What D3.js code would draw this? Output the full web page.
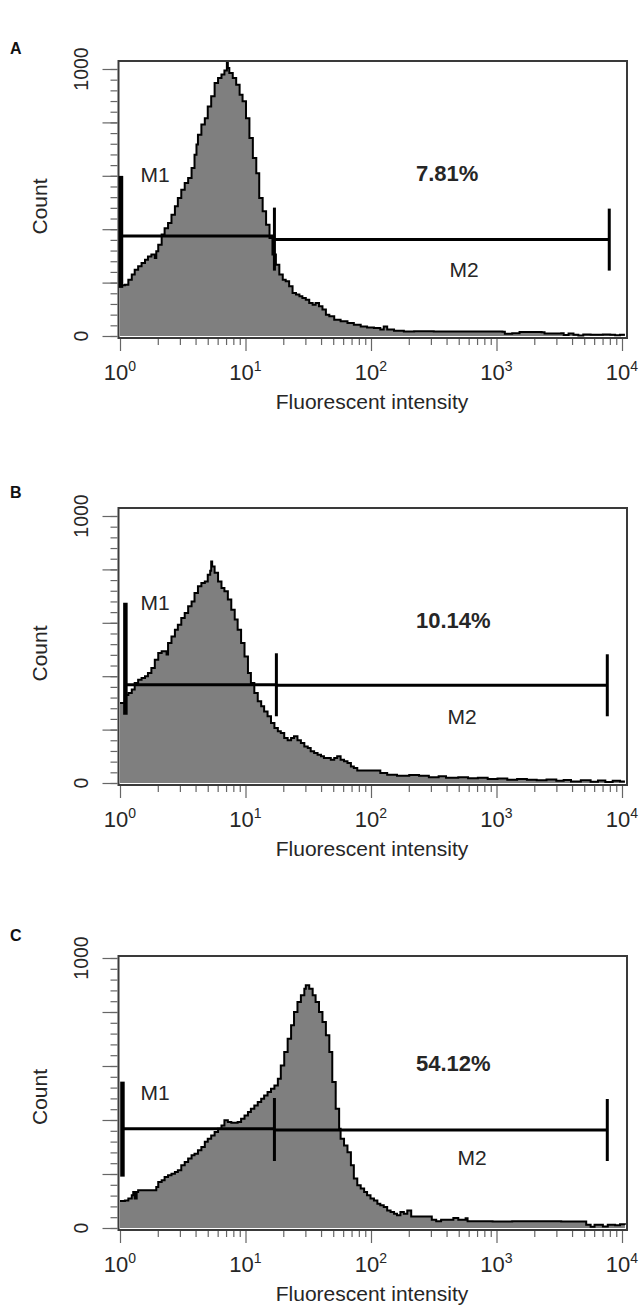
<!DOCTYPE html>
<html><head><meta charset="utf-8">
<script src="https://cdn.jsdelivr.net/npm/d3@7"></script>
<style>body{margin:0;background:#fff}svg{display:block}</style>
</head><body>
<svg id="chart" width="640" height="1310"></svg>
<script>
// ---------- DATA ----------
const panelLabels = ["A", "B", "C"];
const percentLabels = ["7.81%", "10.14%", "54.12%"];
const xTickValues = [1, 10, 100, 1000, 10000];
const xTickExponents = ["0", "1", "2", "3", "4"];
const yLabelValues = [0, 1000];
const xTitle = "Fluorescent intensity";
const yTitle = "Count";

// log channel (256 channels per decade) and counts
const channelsA = [0,10,17,24,30,37,44,51,57,64,71,74,78,85,91,98,105,112,118,125,132,139,146,152,156,159,166,173,179,186,193,200,207,213,218,220,223,230,237,244,250,257,264,271,278,284,291,298,305,311,318,325,332,338,345,352,359,366,372,379,386,393,399,406,413,420,427,437,450,464,477,491,504,518,531,538,545,559,579,600,640,700,740,780,785,800,815,860,866,900,905,915,925,935,945,960,985,1000,1010,1020,1030];
const countsA   = [190,192,211,230,248,261,273,286,298,305,292,317,342,380,404,423,454,486,517,548,573,592,629,679,717,754,792,816,860,898,948,966,979,994,1035,1004,985,966,941,904,879,816,742,667,610,517,467,417,367,305,267,230,211,205,186,161,155,149,142,136,124,117,124,111,99,80,74,61,55,49,42,36,32,30,24,36,24,20,17,18,17,17,17,16,8,10,15,14,9,10,4,9,5,2,6,5,6,5,3,5,5];

const channelsB = [0,10,17,24,30,37,44,51,57,64,71,78,85,91,95,98,105,112,118,125,132,139,146,152,159,166,173,179,184,186,188,193,200,207,213,220,227,234,240,247,254,261,267,274,281,288,294,301,308,315,322,328,335,342,349,355,362,369,376,383,389,396,403,410,416,423,430,437,443,450,457,464,471,477,484,504,518,531,545,565,590,610,630,650,665,690,710,730,750,770,790,810,830,850,870,890,905,920,940,960,975,990,1005,1020,1030];
const countsB   = [300,330,337,350,375,387,393,400,412,431,462,487,493,493,481,524,549,574,593,618,637,662,680,712,737,749,755,780,795,830,811,787,755,730,718,687,649,612,574,524,474,412,375,337,306,287,268,250,225,206,194,187,169,160,169,175,160,150,137,131,119,112,106,100,94,94,87,94,100,87,81,75,62,56,47,47,47,37,31,27,30,27,22,25,20,22,18,20,15,17,12,15,12,10,13,8,11,6,10,5,9,4,8,6,6];

const channelsC = [0,10,17,24,27,30,34,37,44,57,71,74,78,85,91,98,105,112,118,125,132,139,146,152,159,166,173,179,186,193,200,207,213,220,227,234,240,247,254,261,267,274,281,288,294,301,308,315,322,328,335,342,349,355,362,369,376,379,386,393,399,406,413,420,427,433,440,447,450,457,464,471,477,484,491,498,504,511,518,525,531,538,545,552,559,565,572,579,586,594,636,645,655,680,690,705,709,760,800,850,900,951,960,968,985,995,1010,1020,1030];
const countsC   = [100,102,109,121,133,109,133,140,140,140,140,152,170,177,189,195,201,207,214,232,244,257,269,275,288,300,319,331,343,356,368,380,399,393,390,390,393,405,417,430,442,454,467,479,491,504,516,528,553,602,652,701,751,800,837,862,886,899,886,862,837,800,763,714,652,541,442,368,331,306,281,232,183,158,146,133,121,109,102,90,84,78,65,59,53,47,59,53,65,43,31,25,31,37,31,36,25,24,25,25,24,12,5,12,6,12,10,14,12];

// gates (log channel) : M1 start, M1/M2 boundary, M2 end ; gate levels (count)
const gateStart = [2, 11, 5];
const gateSplit = [315, 319, 315];
const gateEnd   = [998, 994, 994];
const gateLevelM1 = [375, 368, 368];
const gateLevelM2 = [361, 366, 363];

// ---------- LAYOUT ----------
const layout = [
  {frameTop: 61,  y0: 336,  y1000: 69,  letterY: 54,  m1Bar: [-60, 52], m1Y: 182,  m2Y: 277,  m2X: 464},
  {frameTop: 508, y0: 783,  y1000: 516, letterY: 498, m1Bar: [-82, 30], m1Y: 610,  m2Y: 724,  m2X: 462},
  {frameTop: 956, y0: 1228, y1000: 958, letterY: 941, m1Bar: [-47, 48], m1Y: 1100, m2Y: 1165, m2X: 472}
];
const frameLeft = 118.5, frameRight = 627;
const FONT = "'Liberation Sans', Arial, sans-serif";
const TXT = "#262626";

const svg = d3.select("#chart");
const x = d3.scaleLog().domain([1, 10000]).range([120, 622]);
const chToI = ch => Math.pow(10, ch / 256);

const datasets = [
  [channelsA, countsA],
  [channelsB, countsB],
  [channelsC, countsC]
];

layout.forEach((L, i) => {
  const g = svg.append("g");
  const y = d3.scaleLinear().domain([0, 1000]).range([L.y0, L.y1000]);
  const frameBottom = L.y0 + 2;

  const clipId = "clip" + i;
  svg.append("clipPath").attr("id", clipId).append("rect")
    .attr("x", frameLeft).attr("y", L.frameTop)
    .attr("width", frameRight - frameLeft).attr("height", frameBottom - L.frameTop);

  const [chs, cnts] = datasets[i];
  const pts = chs.map((c, k) => ({I: chToI(c), v: cnts[k]}));

  const area = d3.area().curve(d3.curveStepAfter)
    .x(d => x(d.I)).y0(y(0)).y1(d => y(d.v));
  const line = d3.line().curve(d3.curveStepAfter)
    .x(d => x(d.I)).y(d => y(d.v));

  const hg = g.append("g").attr("clip-path", `url(#${clipId})`);
  hg.append("path").datum(pts).attr("d", area).attr("fill", "#7f7f7f");
  hg.append("path").datum(pts).attr("d", line)
    .attr("fill", "none").attr("stroke", "#000").attr("stroke-width", 2);

  // frame
  g.append("rect").attr("x", frameLeft).attr("y", L.frameTop)
    .attr("width", frameRight - frameLeft).attr("height", frameBottom - L.frameTop)
    .attr("fill", "none").attr("stroke", "#3a3a3a").attr("stroke-width", 2);

  // y axis ticks
  const yMinor = d3.axisLeft(y).tickValues(d3.range(0, 1001, 40)).tickSize(7).tickFormat("");
  const yMajor = d3.axisLeft(y).tickValues(d3.range(0, 1001, 200)).tickSize(15).tickFormat("");
  [yMinor, yMajor].forEach(ax => {
    const a = g.append("g").attr("transform", `translate(${frameLeft - 1},0)`).call(ax);
    a.select(".domain").remove();
    a.selectAll("line").attr("stroke", "#666").attr("stroke-width", 1.2);
  });
  yLabelValues.forEach(v => {
    g.append("text").attr("transform", `translate(88,${y(v)}) rotate(-90)`)
      .attr("text-anchor", "middle").attr("font-family", FONT).attr("font-size", 19.5)
      .attr("fill", TXT).text(v);
  });
  g.append("text").attr("transform", `translate(47,${(L.y0 + L.y1000) / 2 + 4}) rotate(-90)`)
    .attr("text-anchor", "middle").attr("font-family", FONT).attr("font-size", 21)
    .attr("fill", TXT).text(yTitle);

  // x axis ticks
  const minorX = [];
  for (let d = 1; d < 10000; d *= 10) for (let m = 2; m <= 9; m++) minorX.push(d * m);
  const xMinor = d3.axisBottom(x).tickValues(minorX).tickSize(6).tickFormat("");
  const xMajor = d3.axisBottom(x).tickValues(xTickValues).tickSize(12).tickFormat("");
  [xMinor, xMajor].forEach(ax => {
    const a = g.append("g").attr("transform", `translate(0,${frameBottom + 1})`).call(ax);
    a.select(".domain").remove();
    a.selectAll("line").attr("stroke", "#666").attr("stroke-width", 1.2);
  });
  xTickValues.forEach((v, k) => {
    const t = g.append("text").attr("x", x(v)).attr("y", L.y0 + 44)
      .attr("text-anchor", "middle").attr("font-family", FONT).attr("font-size", 22)
      .attr("fill", TXT);
    t.append("tspan").text("10");
    t.append("tspan").attr("dy", -9).attr("font-size", 14).text(xTickExponents[k]);
  });
  g.append("text").attr("x", 372).attr("y", L.y0 + 73).attr("text-anchor", "middle")
    .attr("font-family", FONT).attr("font-size", 21).attr("fill", TXT).text(xTitle);

  // panel letter
  g.append("text").attr("x", 10).attr("y", L.letterY).attr("font-family", FONT)
    .attr("font-weight", "bold").attr("font-size", 16).attr("fill", "#111").text(panelLabels[i]);

  // gates
  const xs = x(chToI(gateStart[i])), xm = x(chToI(gateSplit[i])), xe = x(chToI(gateEnd[i]));
  const ly1 = y(gateLevelM1[i]), ly2 = y(gateLevelM2[i]);
  const gl = g.append("g").attr("stroke", "#000").attr("stroke-linecap", "butt");
  gl.append("line").attr("x1", xs).attr("x2", xm).attr("y1", ly1).attr("y2", ly1).attr("stroke-width", 3);
  gl.append("line").attr("x1", xm).attr("x2", xe).attr("y1", ly2).attr("y2", ly2).attr("stroke-width", 3);
  gl.append("line").attr("x1", xs).attr("x2", xs).attr("y1", ly1 + L.m1Bar[0]).attr("y2", ly1 + L.m1Bar[1]).attr("stroke-width", 4.5);
  gl.append("line").attr("x1", xm).attr("x2", xm).attr("y1", ly2 - 32).attr("y2", ly2 + 31).attr("stroke-width", 3);
  gl.append("line").attr("x1", xe).attr("x2", xe).attr("y1", ly2 - 31).attr("y2", ly2 + 31).attr("stroke-width", 3);

  g.append("text").attr("x", 140.5).attr("y", L.m1Y).attr("font-family", FONT)
    .attr("font-size", 21).attr("fill", TXT).text("M1");
  g.append("text").attr("x", L.m2X).attr("y", L.m2Y).attr("text-anchor", "middle").attr("font-family", FONT)
    .attr("font-size", 21).attr("fill", TXT).text("M2");
  g.append("text").attr("x", 416).attr("y", (L.y0 + L.y1000) / 2 - 22).attr("font-family", FONT)
    .attr("font-weight", "bold").attr("font-size", 22).attr("fill", TXT).text(percentLabels[i]);
});
</script>
</body></html>
